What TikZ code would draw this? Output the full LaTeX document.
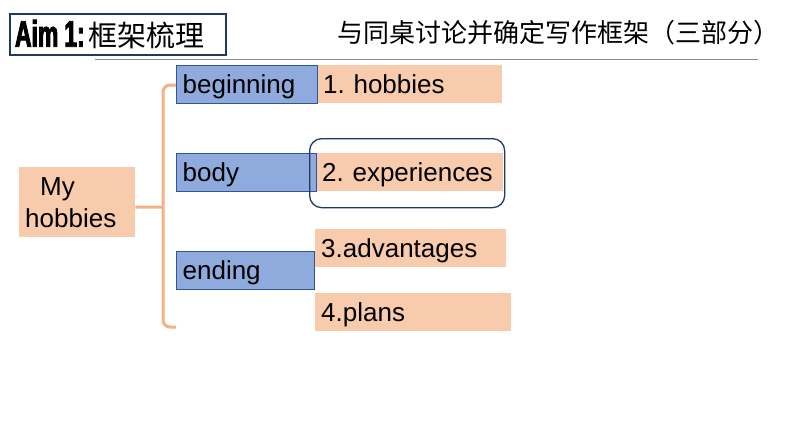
\documentclass[tikz,border=0pt]{standalone}
\usepackage{fontspec}
\setmainfont{Liberation Sans}
\newfontfamily\cjk{Noto Sans CJK SC}
\newfontfamily\impactlike[FakeStretch=0.62,FakeBold=2.5]{Liberation Sans}
\definecolor{bluefill}{HTML}{8FAADC}
\definecolor{blueline}{HTML}{2F5597}
\definecolor{navy}{HTML}{1F3864}
\definecolor{peach}{HTML}{F8CBAD}
\definecolor{brace}{HTML}{F4B183}
\definecolor{rulegray}{HTML}{8C8C8C}
\tikzset{
  box/.style={anchor=north west, inner xsep=6pt, inner ysep=0pt, align=left, text height=22pt, text depth=4pt, font=\fontsize{26}{32}\selectfont},
  bluebox/.style={box, fill=bluefill, draw=blueline, line width=1.3pt},
  peachbox/.style={box, fill=peach},
  brk/.style={draw=brace, line width=3pt, rounded corners=7pt},
}
\begin{document}
\frenchspacing
\begin{tikzpicture}[x=1pt,y=-1pt]
\useasboundingbox (0,0) rectangle (794,447);
\fill[white] (0,0) rectangle (794,447);
% title
\node[draw=navy, line width=2pt, anchor=north west, minimum width=216pt, minimum height=41pt, inner xsep=5pt, inner ysep=0pt, text width=206pt, align=left] (title) at (9,13)
  {{\impactlike\bfseries\fontsize{37}{37}\selectfont Aim\hspace{6pt}1:}\hspace{4pt}{\cjk\fontsize{29}{29}\selectfont 框架梳理}};
\node[anchor=west, inner sep=0pt, font=\cjk\fontsize{26}{26}\selectfont] (task) at (337,33) {与同桌讨论并确定写作框架（三部分）};
\coordinate (ruleL) at (95,59);
\coordinate (ruleR) at (758,59);
\draw[rulegray, line width=0.9pt] (ruleL) -- (ruleR);
% root
\node[anchor=north west, fill=peach, inner xsep=6pt, inner ysep=0pt, align=left, font=\fontsize{26}{32}\selectfont, minimum width=116pt, minimum height=70pt, text width=104pt] (hob) at (19,167) {\hspace*{15pt}My\\hobbies};
% right peach boxes
\node[peachbox, minimum width=185pt, minimum height=38pt, text width=173pt] (p1) at (317,65) {1. hobbies};
\node[peachbox, minimum width=187pt, minimum height=38pt, text width=175pt, inner xsep=5pt] (p2) at (316,153) {2. experiences};
\node[peachbox, minimum width=191pt, minimum height=38pt, text width=179pt] (p3) at (315,229) {3.advantages};
\node[peachbox, minimum width=196pt, minimum height=38pt, text width=184pt] (p4) at (315,293) {4.plans};
% blue boxes
\node[bluebox, minimum width=141pt, minimum height=38pt, text width=129pt] (beg) at (176,65) {beginning};
\node[bluebox, minimum width=140pt, minimum height=38pt, text width=128pt] (bod) at (176,153) {body};
\node[bluebox, minimum width=138pt, minimum height=38pt, text width=126pt] (end) at (176,251) {ending};
% highlight
\node[draw=navy, line width=1.3pt, rounded corners=12pt, anchor=north west, minimum width=195pt, minimum height=69pt, inner sep=0pt] (hl) at (309,138) {};
% brace
\coordinate (bt) at (176,85);
\coordinate (bb) at (176,327);
\draw[brk] (bt) -- (163,85) -- (163,327) -- (bb);
\draw[brk] ([yshift=-5pt]hob.east) -- (163,207);
\end{tikzpicture}
\end{document}
